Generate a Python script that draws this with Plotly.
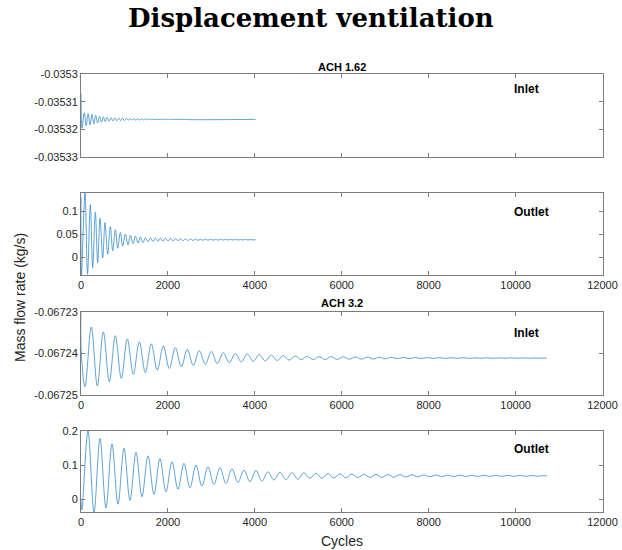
import plotly.graph_objects as go

# ---- ACH 1.62 : inlet mass flow (extrema of the damped oscillation) ----
t_in162 = [0, 25, 75, 119, 163, 207, 251, 295, 339, 383, 427, 471, 515, 559, 603, 647,
           691, 735, 779, 823, 867, 911, 955, 999, 1043, 1087, 1131, 1175, 1219, 1263,
           1307, 1351, 1395, 1439, 1483, 1527, 1571, 1615, 1659, 1703, 1747, 1791, 1835,
           1879, 1923, 1967, 2011, 2055, 2099, 2143, 2187, 2231, 2275, 2319, 2363, 2407, 4020]
m_in162 = [-0.0353070, -0.0353196, -0.0353140, -0.0353187, -0.0353143, -0.0353184,
           -0.0353146, -0.0353180, -0.03531495, -0.0353177, -0.0353153, -0.0353174,
           -0.0353155, -0.0353172, -0.03531568, -0.03531706, -0.0353158, -0.03531696,
           -0.03531586, -0.0353169, -0.03531593, -0.03531684, -0.03531598, -0.03531679,
           -0.03531604, -0.03531674, -0.03531609, -0.03531669, -0.03531613, -0.03531666,
           -0.03531616, -0.03531663, -0.03531619, -0.0353166, -0.03531622, -0.03531657,
           -0.03531624, -0.03531655, -0.03531625, -0.03531654, -0.03531627, -0.03531653,
           -0.03531628, -0.03531651, -0.0353163, -0.0353165, -0.03531631, -0.03531649,
           -0.03531632, -0.03531648, -0.03531633, -0.03531647, -0.03531634, -0.03531646,
           -0.03531635, -0.03531645, -0.0353164]

# ---- ACH 1.62 : outlet mass flow ----
t_out162 = [0, 10, 92, 150, 215, 269, 330, 384, 438, 499, 553, 614, 676, 729, 791, 845,
            906, 960, 1021, 1082, 1136, 1198, 1251, 1313, 1366, 1428, 1481, 1543, 1597,
            1658, 1712, 1773, 1827, 1888, 1942, 2003, 2057, 2118, 2172, 2233, 2287, 2348,
            2402, 2463, 2517, 2578, 2632, 2693, 2747, 2808, 2862, 2923, 2977, 3038, 3092,
            3153, 3207, 3268, 3322, 3383, 3437, 3498, 3552, 3613, 3667, 3728, 3782, 3843,
            3897, 3958, 4020]
m_out162 = [0.130, -0.0385, 0.139, -0.037, 0.1137, -0.0226, 0.097, -0.0117, 0.084,
            -0.0015, 0.075, 0.0065, 0.0665, 0.0137, 0.0593, 0.0195, 0.0535, 0.024, 0.050,
            0.0267, 0.0478, 0.029, 0.0457, 0.0304, 0.0441, 0.0317, 0.0426, 0.0333, 0.042,
            0.034, 0.0415, 0.0343, 0.0411, 0.0347, 0.0408, 0.0350, 0.0405, 0.0353, 0.0402,
            0.0356, 0.0399, 0.0358, 0.0397, 0.0360, 0.0395, 0.0362, 0.0393, 0.0364, 0.0391,
            0.0366, 0.0390, 0.0367, 0.0389, 0.0368, 0.0388, 0.0369, 0.0387, 0.0370, 0.0386,
            0.0371, 0.0385, 0.0372, 0.0384, 0.0373, 0.0383, 0.0374, 0.03825, 0.03745,
            0.0382, 0.0375, 0.0378]

# ---- ACH 3.2 : inlet mass flow ----
t_in32 = [0, 5, 92, 238, 376, 514, 652, 790, 928, 1066, 1204, 1342, 1480, 1618, 1756,
          1894, 2032, 2170, 2308, 2446, 2584, 2722, 2860, 2998, 3136, 3274, 3412, 3550,
          3688, 3826, 3964, 4102, 4240, 4378, 4516, 4654, 4792, 4930, 5068, 5206, 5344,
          5482, 5620, 5758, 5896, 6034, 6172, 6310, 6448, 6586, 6724, 6862, 7000, 7138,
          7276, 7414, 7552, 7690, 7828, 7966, 8104, 8242, 8380, 8518, 8656, 8794, 8932,
          9070, 9208, 9346, 9484, 9622, 9760, 9898, 10036, 10174, 10312, 10450, 10588, 10720]
m_in32 = [-0.0672300, -0.0672395, -0.0672480, -0.0672336, -0.0672478, -0.0672348,
          -0.0672468, -0.0672357, -0.0672460, -0.0672365, -0.0672450, -0.0672372,
          -0.0672446, -0.0672377, -0.0672440, -0.0672382, -0.0672436, -0.0672386,
          -0.0672432, -0.0672390, -0.0672429, -0.0672393, -0.0672426, -0.0672395,
          -0.0672424, -0.0672398, -0.0672422, -0.0672400, -0.0672420, -0.0672401,
          -0.0672419, -0.0672402, -0.0672418, -0.0672404, -0.0672417, -0.0672405,
          -0.0672416, -0.0672406, -0.0672415, -0.0672407, -0.0672415, -0.06724072,
          -0.06724146, -0.06724076, -0.06724142, -0.0672408, -0.06724138, -0.06724084,
          -0.06724135, -0.06724087, -0.06724132, -0.0672409, -0.06724129, -0.06724093,
          -0.06724126, -0.06724095, -0.06724124, -0.06724097, -0.06724122, -0.06724099,
          -0.0672412, -0.067241, -0.06724119, -0.06724101, -0.06724118, -0.06724102,
          -0.06724117, -0.06724103, -0.06724116, -0.06724104, -0.06724115, -0.06724105,
          -0.06724114, -0.06724106, -0.06724113, -0.06724107, -0.06724113, -0.06724108,
          -0.06724112, -0.0672411]

# ---- ACH 3.2 : outlet mass flow ----
t_out32 = [0, 20, 161, 299, 437, 575, 713, 851, 989, 1127, 1265, 1403, 1541, 1679, 1817,
           1955, 2093, 2231, 2369, 2507, 2645, 2783, 2921, 3059, 3197, 3335, 3473, 3611,
           3749, 3887, 4025, 4163, 4301, 4439, 4577, 4715, 4853, 4991, 5129, 5267, 5405,
           5543, 5681, 5819, 5957, 6095, 6233, 6371, 6509, 6647, 6785, 6923, 7061, 7199,
           7337, 7475, 7613, 7751, 7889, 8027, 8165, 8303, 8441, 8579, 8717, 8855, 8993,
           9131, 9269, 9407, 9545, 9683, 9821, 9959, 10097, 10235, 10373, 10511, 10649, 10720]
m_out32 = [-0.003, -0.032, 0.200, -0.038, 0.178, -0.026, 0.162, -0.015, 0.149, -0.004,
           0.137, 0.007, 0.127, 0.014, 0.119, 0.021, 0.110, 0.029, 0.105, 0.033, 0.100,
           0.038, 0.095, 0.043, 0.092, 0.046, 0.089, 0.049, 0.085, 0.051, 0.084, 0.053,
           0.080, 0.056, 0.079, 0.057, 0.077, 0.059, 0.077, 0.061, 0.0760, 0.0612, 0.0750,
           0.0618, 0.0743, 0.0624, 0.0737, 0.0630, 0.0731, 0.0636, 0.0725, 0.0641, 0.0721,
           0.0645, 0.0717, 0.0649, 0.0713, 0.0653, 0.0709, 0.0656, 0.0707, 0.0658, 0.0705,
           0.0660, 0.0703, 0.0662, 0.0701, 0.0664, 0.0699, 0.0666, 0.0697, 0.0668, 0.0695,
           0.0670, 0.0693, 0.0672, 0.0691, 0.0674, 0.0689, 0.0683]

# tick labels
x_ticks = [0, 2000, 4000, 6000, 8000, 10000, 12000]
x_text = ["0", "2000", "4000", "6000", "8000", "10000", "12000"]
y1_ticks = [-0.0353, -0.03531, -0.03532, -0.03533]
y1_text = ["-0.0353", "-0.03531", "-0.03532", "-0.03533"]
y2_ticks = [0, 0.05, 0.1]
y2_text = ["0", "0.05", "0.1"]
y3_ticks = [-0.06723, -0.06724, -0.06725]
y3_text = ["-0.06723", "-0.06724", "-0.06725"]
y4_ticks = [0, 0.1, 0.2]
y4_text = ["0", "0.1", "0.2"]

W, H = 622, 550
LINE = "#2a84c9"
AX = "#7d7d7d"
SANS = "Liberation Sans, Arial, sans-serif"
TICKFONT = dict(family=SANS, size=11, color="#262626")

fig = go.Figure()
series = [(t_in162, m_in162), (t_out162, m_out162), (t_in32, m_in32), (t_out32, m_out32)]
for i, (t, m) in enumerate(series, start=1):
    sfx = "" if i == 1 else str(i)
    fig.add_trace(go.Scatter(x=t, y=m, mode="lines",
                             line=dict(color=LINE, width=0.75, shape="spline", smoothing=1.0),
                             xaxis="x" + sfx, yaxis="y" + sfx, showlegend=False,
                             hoverinfo="skip"))

# axes boxes in pixel coordinates (left, right) and (top, bottom)
x_px = (81, 602.5)
rows = [(74, 157), (193, 275), (312, 395), (431, 512)]
yranges = [[-0.03533, -0.0353], [-0.0385, 0.139], [-0.06725, -0.06723], [-0.038, 0.2]]
yticks = [(y1_ticks, y1_text), (y2_ticks, y2_text), (y3_ticks, y3_text), (y4_ticks, y4_text)]

common = dict(showline=True, linecolor=AX, linewidth=1, mirror="ticks", ticks="inside",
              ticklen=4, tickcolor=AX, tickwidth=1, showgrid=False, zeroline=False,
              tickfont=TICKFONT, automargin=False)

layout = {}
for i, ((top, bot), yr, (tv, tt)) in enumerate(zip(rows, yranges, yticks), start=1):
    sfx = "" if i == 1 else str(i)
    layout["xaxis" + sfx] = dict(common, domain=[x_px[0] / W, x_px[1] / W],
                                 range=[0, 12000], tickvals=x_ticks, ticktext=x_text,
                                 showticklabels=(i != 1), anchor="y" + sfx)
    layout["yaxis" + sfx] = dict(common, domain=[1 - bot / H, 1 - top / H], range=yr,
                                 tickvals=tv, ticktext=tt, anchor="x" + sfx)

fig.update_layout(**layout)


def label(text, xpx, ypx, size, family=SANS, color="black", xanchor="center", angle=0):
    return dict(text=text, x=xpx / W, y=1 - ypx / H, xref="paper", yref="paper",
                xanchor=xanchor, yanchor="middle", textangle=angle, showarrow=False,
                font=dict(family=family, size=size, color=color))


ann = [
    label("<b>ACH 1.62</b>", 342, 67, 11),
    label("<b>ACH 3.2</b>", 342, 303, 11),
    label("<b>Inlet</b>", 512, 89, 12, xanchor="left"),
    label("<b>Outlet</b>", 512, 212, 12, xanchor="left"),
    label("<b>Inlet</b>", 512, 333, 12, xanchor="left"),
    label("<b>Outlet</b>", 512, 449, 12, xanchor="left"),
    label("Mass flow rate (kg/s)", 20, 298, 14, color="#262626", angle=-90),
    label("Cycles", 342, 541, 14, color="#262626"),
    label("<b>Displacement ventilation</b>", 311, 18, 26, family="DejaVu Serif, serif"),
]

fig.update_layout(width=W, height=H, margin=dict(l=0, r=0, t=0, b=0, autoexpand=False),
                  paper_bgcolor="white", plot_bgcolor="white", annotations=ann)

fig.write_html("out.html")
